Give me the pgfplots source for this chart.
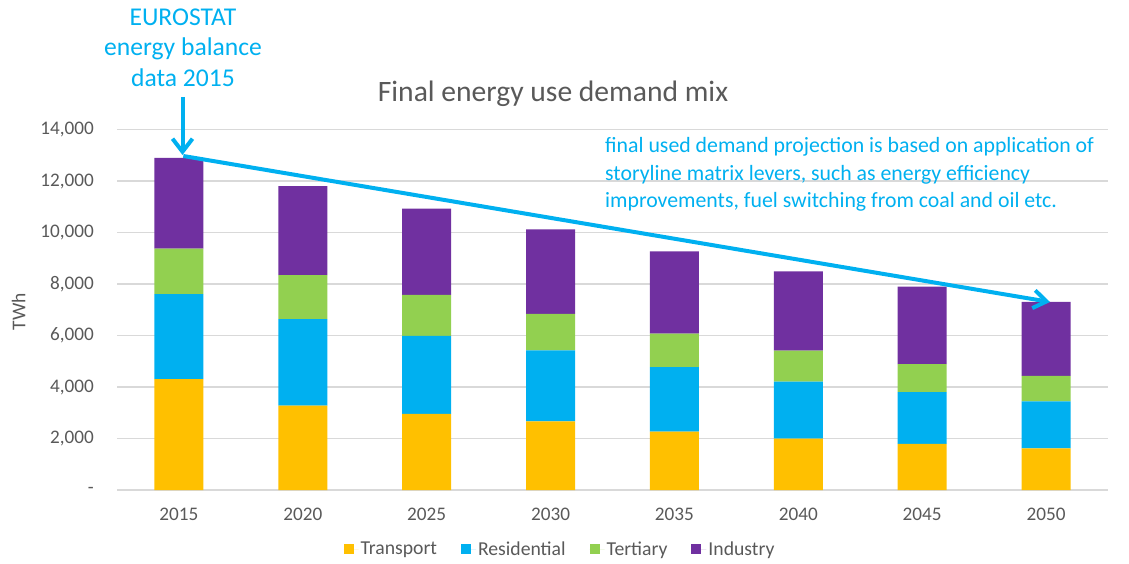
\documentclass[border=0pt]{standalone}
\usepackage{pgfplots}
\pgfplotsset{compat=1.18}
\usepackage{fontspec}
\setmainfont{Carlito}
\usetikzlibrary{arrows.meta}
\definecolor{ctrans}{HTML}{FFC000}
\definecolor{cres}{HTML}{00B0F0}
\definecolor{cter}{HTML}{92D050}
\definecolor{cind}{HTML}{7030A0}
\definecolor{ccyan}{HTML}{00B0F0}
\definecolor{cgrid}{HTML}{D9D9D9}
\definecolor{ctext}{HTML}{595959}
\pgfplotsset{sq/.style={legend image code/.code={\fill[##1] (0pt,-5pt) rectangle (10pt,5pt); \path (0pt,0pt) -- (15pt,0pt);}}}
\begin{document}
\begin{tikzpicture}
\path[use as bounding box] (0,0) rectangle (1129pt,563pt);
\begin{axis}[
  at={(117pt,73pt)}, anchor=south west,
  scale only axis, width=991pt, height=360.5pt,
  ybar stacked, bar width=49pt,
  xmin=-0.5, xmax=7.5, ymin=0, ymax=14000,
  scaled y ticks=false,
  xtick={0,...,7},
  xticklabels={2015,2020,2025,2030,2035,2040,2045,2050},
  ytick={0,2000,4000,6000,8000,10000,12000,14000},
  yticklabels={{-},{2,000},{4,000},{6,000},{8,000},{10,000},{12,000},{14,000}},
  axis line style={draw=none},
  major tick length=0pt,
  ymajorgrids, grid style={cgrid, line width=1.3pt},
  tick label style={font=\fontsize{19.2}{23}\selectfont, text=ctext},
  xticklabel style={anchor=north, inner sep=0pt, yshift=-18pt},
  yticklabel style={anchor=east, inner sep=0pt, xshift=-23pt},
  ylabel={TWh},
  ylabel style={at={(axis description cs:-0.0994,0.494)}, anchor=center, font=\fontsize{19.5}{23}\selectfont, text=ctext},
  legend columns=4,
  legend style={at={(0.447,-0.164)}, anchor=center, draw=none, fill=none,
    font=\fontsize{19.7}{23}\selectfont, text=ctext,
    /tikz/every even column/.append style={column sep=22pt}},
  legend cell align=left,
]
\addplot[fill=ctrans, draw=none, sq] coordinates {(0,4310) (1,3280) (2,2960) (3,2670) (4,2270) (5,2000) (6,1790) (7,1620)};
\addplot[fill=cres, draw=none, sq] coordinates {(0,3300) (1,3360) (2,3030) (3,2750) (4,2500) (5,2210) (6,2010) (7,1820)};
\addplot[fill=cter, draw=none, sq] coordinates {(0,1760) (1,1700) (2,1590) (3,1420) (4,1300) (5,1200) (6,1090) (7,990)};
\addplot[fill=cind, draw=none, sq] coordinates {(0,3530) (1,3460) (2,3350) (3,3280) (4,3200) (5,3080) (6,3010) (7,2880)};
\legend{Transport,Residential,Tertiary,Industry}
\end{axis}
% annotations
\node[anchor=base, inner sep=0pt, text=ccyan, font=\fontsize{25.6}{30}\selectfont] at (183pt,537pt) {EUROSTAT};
\node[anchor=base, inner sep=0pt, text=ccyan, font=\fontsize{25.6}{30}\selectfont] at (183pt,507pt) {energy balance};
\node[anchor=base, inner sep=0pt, text=ccyan, font=\fontsize{25.6}{30}\selectfont] at (183pt,476pt) {data 2015};
\node[anchor=base, inner sep=0pt, text=ctext, font=\fontsize{29.6}{36}\selectfont] at (553pt,461pt) {Final energy use demand mix};
\node[anchor=base west, inner sep=0pt, text=ccyan, font=\fontsize{21.8}{27}\selectfont] at (605pt,410pt) {final used demand projection is based on application of};
\node[anchor=base west, inner sep=0pt, text=ccyan, font=\fontsize{21.8}{27}\selectfont] at (605pt,382.5pt) {storyline matrix levers, such as energy efficiency};
\node[anchor=base west, inner sep=0pt, text=ccyan, font=\fontsize{21.8}{27}\selectfont] at (605pt,355pt) {improvements, fuel switching from coal and oil etc.};
\draw[ccyan, line width=4pt, -{Straight Barb[length=13pt,width=20pt]}] (182.5pt,466pt) -- (182.5pt,408pt);
\draw[ccyan, line width=4pt, -{Straight Barb[length=13pt,width=18pt]}] (183.3pt,407pt) -- (1050pt,261pt);
\end{tikzpicture}
\end{document}
